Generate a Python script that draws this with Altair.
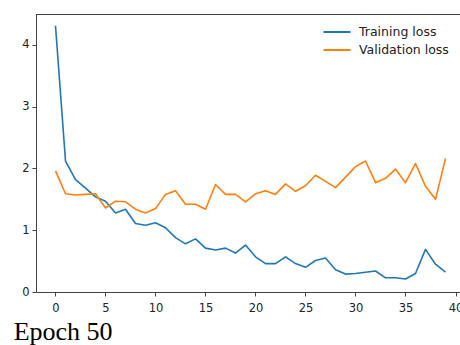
import altair as alt
import pandas as pd

epochs = list(range(40))
train_loss = [4.31, 2.12, 1.82, 1.68, 1.54, 1.47, 1.28, 1.34, 1.11, 1.08,
              1.12, 1.04, 0.88, 0.78, 0.86, 0.71, 0.68, 0.71, 0.63, 0.76,
              0.57, 0.46, 0.46, 0.57, 0.46, 0.40, 0.51, 0.55, 0.36, 0.29,
              0.30, 0.32, 0.34, 0.23, 0.23, 0.21, 0.30, 0.69, 0.45, 0.32]
val_loss = [1.96, 1.59, 1.57, 1.58, 1.59, 1.36, 1.47, 1.46, 1.34, 1.28,
            1.35, 1.58, 1.64, 1.42, 1.42, 1.34, 1.74, 1.58, 1.58, 1.46,
            1.59, 1.64, 1.58, 1.75, 1.63, 1.72, 1.89, 1.79, 1.69, 1.86,
            2.03, 2.12, 1.77, 1.84, 1.99, 1.77, 2.08, 1.71, 1.50, 2.16]
series_names = ["Training loss", "Validation loss"]
series_colors = ["#1f77b4", "#ff7f0e"]
x_ticks = [0, 5, 10, 15, 20, 25, 30, 35, 40]
y_ticks = [0, 1, 2, 3, 4]

df = pd.DataFrame({
    "epoch": epochs + epochs,
    "loss": train_loss + val_loss,
    "series": [series_names[0]] * len(epochs) + [series_names[1]] * len(epochs),
})

W, H = 424, 278

lines = alt.Chart(df).mark_line(strokeWidth=1.6, strokeJoin="round").encode(
    x=alt.X("epoch:Q", scale=alt.Scale(domain=[-1.95, 40.45], nice=False, zero=False),
            axis=alt.Axis(values=x_ticks, title=None, grid=False, format="d",
                          domainColor="#444", tickColor="#444", tickSize=4,
                          labelFontSize=11.5, labelColor="#222", labelFont="DejaVu Sans",
                          labelPadding=6, domainWidth=1, tickWidth=1)),
    y=alt.Y("loss:Q", scale=alt.Scale(domain=[0, 4.5], nice=False, zero=False),
            axis=alt.Axis(values=y_ticks, title=None, grid=False, format="d",
                          domainColor="#444", tickColor="#444", tickSize=4,
                          labelFontSize=11.5, labelColor="#222", labelFont="DejaVu Sans",
                          labelPadding=3, domainWidth=1, tickWidth=1)),
    color=alt.Color("series:N", scale=alt.Scale(domain=series_names, range=series_colors),
                    legend=alt.Legend(title=None, orient="none", legendX=293, legendY=10,
                                      symbolType="M-2,0H2", symbolSize=182, symbolStrokeWidth=2,
                                      symbolFillColor="transparent",
                                      labelFontSize=12.5, labelFont="DejaVu Sans",
                                      labelColor="#222", rowPadding=3, labelOffset=14)),
)

top_spine = alt.Chart(df).mark_rule(color="#444", strokeWidth=1).encode(
    x=alt.value(0), x2=alt.value(W), y=alt.value(0.5)
)

chart = alt.layer(lines, top_spine).properties(
    width=W, height=H,
    padding={"left": 36, "top": 14, "right": 0, "bottom": 345 - 14 - H},
    autosize=alt.AutoSizeParams(type="none"),
    title=alt.TitleParams(text="Epoch 50", orient="bottom", anchor="start",
                          font="Liberation Serif", fontSize=26, fontWeight="normal",
                          color="#000", offset=5, dx=-8, frame="bounds"),
    background="white",
).configure_view(stroke=None)

chart.save("out.html", embed_options={"renderer": "svg", "actions": False})
